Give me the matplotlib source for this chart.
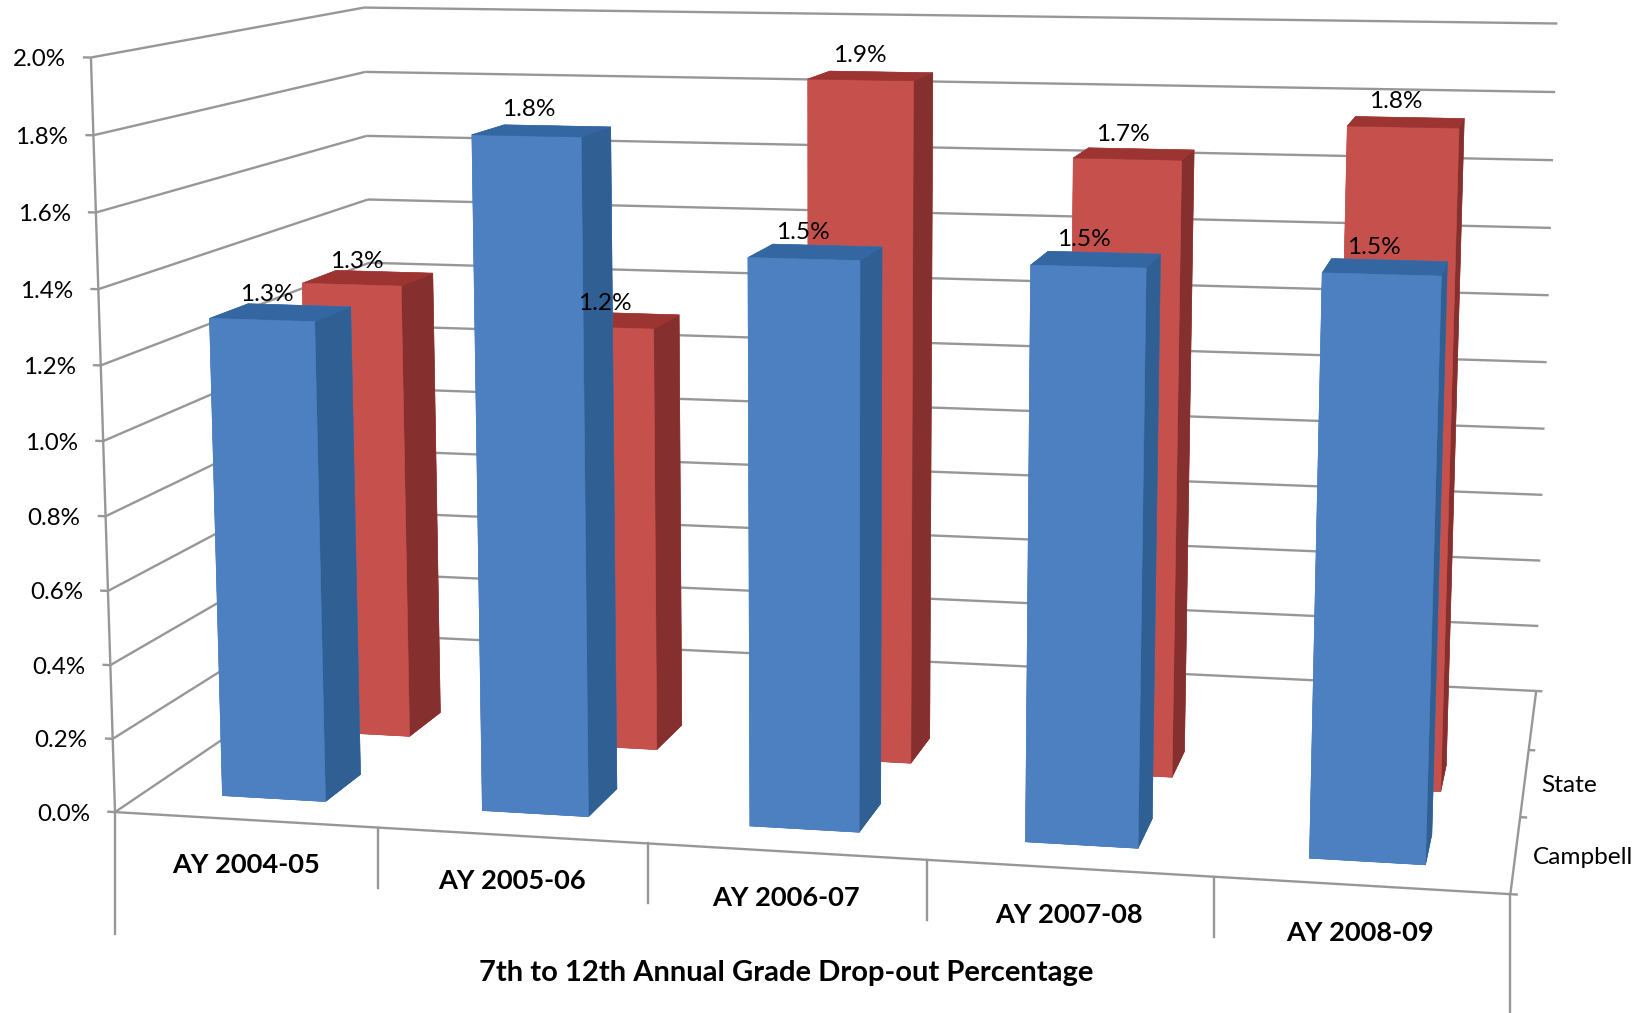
import numpy as np
import matplotlib
matplotlib.use('Agg')
import matplotlib.pyplot as plt
from matplotlib.lines import Line2D
from mpl_toolkits.mplot3d.art3d import Line3DCollection

plt.rcParams['font.family'] = ['Lato', 'DejaVu Sans']

years = ['AY 2004-05', 'AY 2005-06', 'AY 2006-07', 'AY 2007-08', 'AY 2008-09']
campbell = [1.3, 1.8, 1.5, 1.5, 1.5]
state = [1.3, 1.2, 1.9, 1.7, 1.8]
series_names = ['Campbell', 'State']
z_ticks = [0.0, 0.2, 0.4, 0.6, 0.8, 1.0, 1.2, 1.4, 1.6, 1.8, 2.0]

W, H = 1652, 1013
GRID = '#979797'
BLUE = ['#3d6ea8', '#3467a2', '#4c80c0', '#4c80c0', '#4c80c0', '#2f5f93']
RED = ['#a83a37', '#9c3532', '#c6504c', '#c6504c', '#c6504c', '#85302e']

# camera calibration: chart box corners (category, series, percent) -> picture pixel
calib = [
    ((0, 0, 0), (116, 811)), ((5, 0, 0), (1509, 893)), ((0, 0, 2), (91, 57)),
    ((5, 3, 0), (1536, 691)), ((5, 3, 2), (1558, 24)), ((0, 3, 2), (363, 8)),
    ((0, 3, 1.2), (370, 263)), ((5, 2, 0), (1529, 750)), ((5, 1, 0), (1521, 817)),
    ((1, 0, 0), (378, 828)), ((2, 0, 0), (648, 846)), ((3, 0, 0), (927, 861)),
    ((4, 0, 0), (1214, 877)), ((5, 3, 1), (1546, 361)), ((0, 0, 1.2), (102, 366)),
    ((0, 0, 0.4), (108, 663)),
]


def fit_camera(pairs):
    rows = []
    for (x, y, z), (u, v) in pairs:
        u, v = u / 1000, v / 1000
        rows.append([x, y, z, 1, 0, 0, 0, 0, -u * x, -u * y, -u * z, -u])
        rows.append([0, 0, 0, 0, x, y, z, 1, -v * x, -v * y, -v * z, -v])
    p = np.linalg.svd(np.array(rows, dtype=float))[2][-1].reshape(3, 4)
    if p[2, 3] < 0:
        p = -p
    p[:2] *= 1000
    return p


fig = plt.figure(figsize=(W / 100, H / 100), dpi=100)
ax = fig.add_axes([0, (H - W) / 2 / H, 1, W / H], projection='3d', computed_zorder=False)
ax.set_axis_off()
ax.apply_aspect()

# picture pixels -> 2d coordinates of the 3d axes
cam = fit_camera(calib)
(x0, y0), (x1, y1) = ax.transData.inverted().transform([(0, H), (W, 0)])
to_view = np.array([[(x1 - x0) / W, 0, x0], [0, (y1 - y0) / H, y0], [0, 0, 1]])
top = to_view @ cam
depth = cam[2] - np.array([0, 0, 0, 0.5 * cam[2, 3]])
M = np.vstack([top[0], top[1], depth, cam[2]])
ax.get_proj = lambda: M


def to_pixel(x, y, z):
    p = cam @ np.array([x, y, z, 1.0])
    return p[0] / p[2], p[1] / p[2]


def label(x, y, z, s, dx=0, dy=0, **kw):
    # text sits in figure space at the projected spot of a chart position
    u, v = to_pixel(x, y, z)
    fig.text((u + dx) / W, 1 - (v + dy) / H, s, color='black', **kw)


def drop_line(x, length):
    # the category separators hang straight down from the front edge
    u, v = to_pixel(x, 0, 0)
    fig.add_artist(Line2D([u / W, u / W], [1 - v / H, 1 - (v + length) / H], color=GRID, lw=1.7))


segs = []
for z in z_ticks:
    segs.append([(-0.03, 0, z), (0, 0, z)])
    segs.append([(0, 0, z), (0, 3, z)])
    segs.append([(0, 3, z), (5, 3, z)])
segs.append([(0, 0, 0), (0, 0, 2)])
segs.append([(0, 0, 0), (5, 0, 0)])
segs.append([(5, 0, 0), (5, 3, 0)])
for s in range(4):
    segs.append([(5, s, 0), (5.025, s, 0)])
ax.add_collection3d(Line3DCollection(segs, colors=GRID, linewidths=1.7, zorder=1))

drop_line(0, 122)
drop_line(5, 125)
for i in range(1, 5):
    drop_line(i, 60)

# bars, State row first because it sits behind Campbell
bar = 0.4
margin = (1 - bar) / 2
for row, (vals, cols) in enumerate([(campbell, BLUE), (state, RED)]):
    for i, v in enumerate(vals):
        ax.bar3d(i + margin, row + margin, 0, bar, bar, v, color=cols, edgecolor=cols,
                 linewidth=0.4, shade=False, zorder=3 - row)

for row, vals in enumerate([campbell, state]):
    for i, v in enumerate(vals):
        label(i + 0.5, row + 0.3, v + 0.075, '%.1f%%' % v, dx=6 - 3.5 * i, dy=3,
              ha='center', va='center', fontsize=17.6, zorder=6)

for z in z_ticks:
    label(0, 0, z, '%.1f%%' % z, dx=-25, dy=2, ha='right', va='center', fontsize=17.4)
for i, y in enumerate(years):
    label(i + 0.5, 0, -0.123, y, ha='center', va='center', fontsize=19.6, fontweight='bold')
for s, name in enumerate(series_names):
    label(5.06, s + 0.5, 0, name, dy=2, ha='left', va='center', fontsize=17.6)

fig.text(786 / W, 1 - 973 / H, '7th to 12th Annual Grade Drop-out Percentage', ha='center', va='center',
         fontsize=21, fontweight='bold', color='black')

fig.savefig('out.png', dpi=100)
